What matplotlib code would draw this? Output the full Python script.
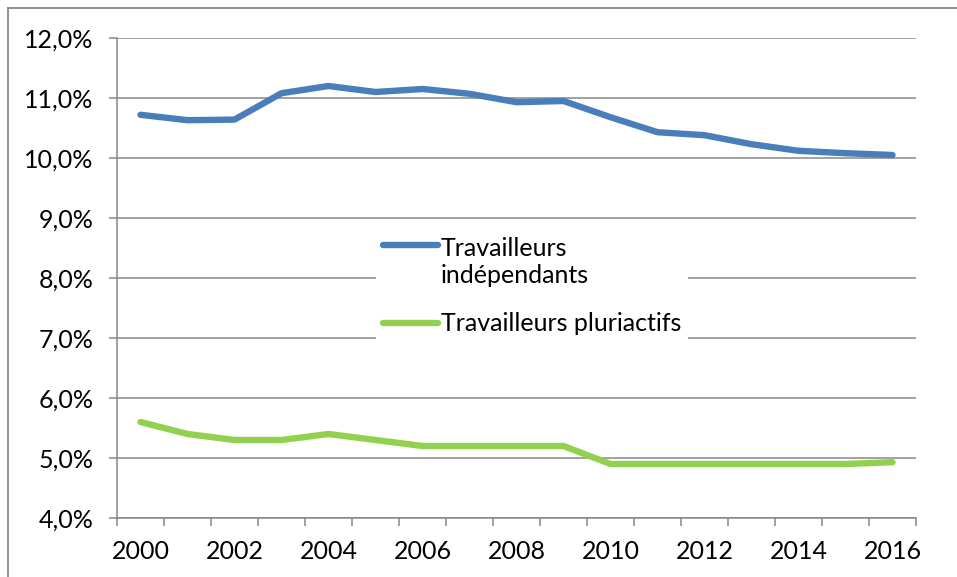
import numpy as np
import matplotlib
matplotlib.use("Agg")
import matplotlib.pyplot as plt
from matplotlib.lines import Line2D
from matplotlib.legend_handler import HandlerLine2D
from matplotlib.ticker import FuncFormatter

# ---------- data -------------------------------------------------------------
years = list(range(2000, 2017))
independants = [10.72, 10.63, 10.64, 11.08, 11.20, 11.10, 11.15, 11.07, 10.93,
                10.95, 10.68, 10.43, 10.38, 10.23, 10.12, 10.08, 10.05]
pluriactifs = [5.6, 5.4, 5.3, 5.3, 5.4, 5.3, 5.2, 5.2, 5.2,
               5.2, 4.9, 4.9, 4.9, 4.9, 4.9, 4.9, 4.93]
series_labels = ["Travailleurs\nindépendants", "Travailleurs pluriactifs"]
y_ticks = [4, 5, 6, 7, 8, 9, 10, 11, 12]

BLUE = "#4a7ebb"
GREEN = "#92d050"
GRID = "#878787"
FS = 18

plt.rcParams["font.family"] = ["Lato", "DejaVu Sans"]


class TopLine(HandlerLine2D):
    """legend line aligned with the first line of a multi-line label"""
    def __init__(self, shift=0.0, **kw):
        super().__init__(**kw)
        self.shift = shift

    def create_artists(self, legend, orig_handle, xdescent, ydescent,
                       width, height, fontsize, trans):
        arts = super().create_artists(legend, orig_handle, xdescent, ydescent,
                                      width, height, fontsize, trans)
        for a in arts:
            a.set_ydata(np.asarray(a.get_ydata(), float) + self.shift)
        return arts


fig = plt.figure(figsize=(9.57, 5.77), dpi=100)
ax = fig.add_axes([117 / 957, 1 - 518 / 577, 799 / 957, 480 / 577])

x = np.arange(len(years))
l1, = ax.plot(x, independants, color=BLUE, lw=4.6, solid_capstyle="round",
              solid_joinstyle="round", zorder=3)
l2, = ax.plot(x, pluriactifs, color=GREEN, lw=4.6, solid_capstyle="round",
              solid_joinstyle="round", zorder=3)

ax.set_xlim(-0.5, len(years) - 0.5)
ax.set_ylim(4, 12)
ax.set_yticks(y_ticks)
ax.yaxis.set_major_formatter(FuncFormatter(lambda v, p: f"{v:.1f}%".replace(".", ",")))
ax.yaxis.grid(True, color=GRID, lw=1.1)
ax.set_axisbelow(True)

# category boundaries as ticks, labels every other year at centres
ax.set_xticks(np.arange(-0.5, len(years)))
ax.set_xticklabels([])
ax.set_xticks(x[::2], minor=True)
ax.set_xticklabels([str(y) for y in years[::2]], minor=True)
ax.tick_params(axis="x", which="major", length=6, width=1.1, color=GRID)
ax.tick_params(axis="x", which="minor", length=0, pad=16, labelsize=FS)
ax.tick_params(axis="y", length=6, width=1.1, color=GRID, pad=11, labelsize=FS)

for s in ["top", "right"]:
    ax.spines[s].set_visible(False)
for s in ["left", "bottom"]:
    ax.spines[s].set_color(GRID)
    ax.spines[s].set_linewidth(1.1)

leg = ax.legend([l1, l2], series_labels, loc="upper left",
                bbox_to_anchor=(0.308, 0.628), fontsize=FS, frameon=True,
                fancybox=False, framealpha=1, edgecolor="none",
                handlelength=2.2, handletextpad=0.1, labelspacing=1.0,
                borderpad=0.3, handler_map={l1: TopLine(shift=12.5)})
leg.set_zorder(5)
for t in leg.get_texts():
    t.set_linespacing(1.25)

# outer chart frame (top and left edges visible)
fig.add_artist(Line2D([8 / 957, 1], [1 - 8 / 577] * 2, color=GRID, lw=1.3))
fig.add_artist(Line2D([8 / 957] * 2, [0, 1 - 8 / 577], color=GRID, lw=1.3))

fig.savefig("out.png", dpi=100, facecolor="white")
